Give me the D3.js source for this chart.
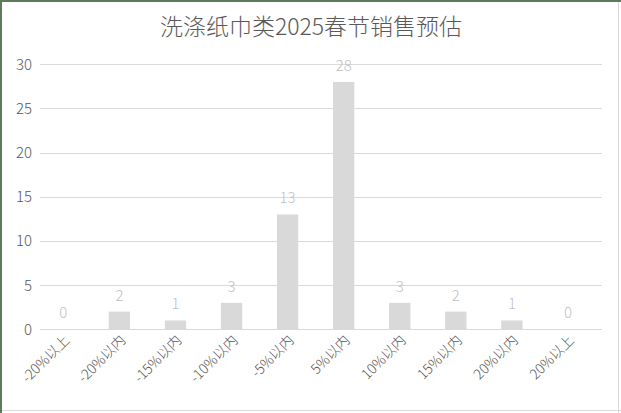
<!DOCTYPE html>
<html><head><meta charset="utf-8">
<script src="https://cdn.jsdelivr.net/npm/d3@7"></script>
<style>html,body{margin:0;padding:0;background:#fff;}svg{display:block;}</style>
</head><body>
<script>
const title = "洗涤纸巾类2025春节销售预估";
const categories = ["-20%以上","-20%以内","-15%以内","-10%以内","-5%以内","5%以内","10%以内","15%以内","20%以内","20%以上"];
const values = [0,2,1,3,13,28,3,2,1,0];
const yTicks = [0,5,10,15,20,25,30];

const W = 621, H = 413;
const font = "'Noto Sans CJK SC','Microsoft YaHei',sans-serif";
const svg = d3.select("body").append("svg").attr("width", W).attr("height", H);

svg.append("rect").attr("x",0).attr("y",0).attr("width",W).attr("height",H).attr("fill","#fff");
// frame
svg.append("line").attr("x1",0).attr("x2",W).attr("y1",410.5).attr("y2",410.5).attr("stroke","#d9d9d9");
svg.append("line").attr("x1",618.5).attr("x2",618.5).attr("y1",0).attr("y2",H).attr("stroke","#d9d9d9");
svg.append("line").attr("x1",0).attr("x2",W).attr("y1",1).attr("y2",1).attr("stroke","#5e7a5c").attr("stroke-width",2);
svg.append("line").attr("x1",1).attr("x2",1).attr("y1",0).attr("y2",H).attr("stroke","#5e7a5c").attr("stroke-width",2);

const y = d3.scaleLinear().domain([0,30]).range([329.3,64.3]);
const x = d3.scaleBand().domain(categories).range([35.3,596]).paddingInner(0.62).paddingOuter(0.31);

// gridlines
svg.append("g").selectAll("line").data(yTicks).join("line")
  .attr("x1",40).attr("x2",602)
  .attr("y1",d=>Math.round(y(d))+0.5).attr("y2",d=>Math.round(y(d))+0.5)
  .attr("stroke","#d9d9d9").attr("stroke-width",1);

// y labels
svg.append("g").selectAll("text").data(yTicks).join("text")
  .attr("x",32).attr("y",d=>y(d)+5.5)
  .attr("text-anchor","end").attr("font-family",font).attr("font-size",15).attr("font-weight",300)
  .attr("fill","#595959").text(d=>d);

// bars
svg.append("g").selectAll("rect").data(values).join("rect")
  .attr("x",(d,i)=>x(categories[i])).attr("width",x.bandwidth())
  .attr("y",d=>y(d)).attr("height",d=>y(0)-y(d))
  .attr("fill","#d9d9d9");

// value labels
svg.append("g").selectAll("text").data(values).join("text")
  .attr("x",(d,i)=>x(categories[i])+x.bandwidth()/2).attr("y",d=>y(d)-11)
  .attr("text-anchor","middle").attr("font-family",font).attr("font-size",15).attr("font-weight",300)
  .attr("fill","#bfbfbf").text(d=>d);

// x labels
svg.append("g").selectAll("text").data(categories).join("text")
  .attr("transform",d=>`translate(${x(d)+x.bandwidth()/2+7},${341}) rotate(-45)`)
  .attr("text-anchor","end").attr("font-family",font).attr("font-size",14).attr("font-weight",300)
  .attr("fill","#595959").text(d=>d);

// title
svg.append("text").attr("x",311).attr("y",35).attr("text-anchor","middle")
  .attr("font-family",font).attr("font-size",23).attr("font-weight",300).attr("fill","#595959").text(title);
</script>
</body></html>
